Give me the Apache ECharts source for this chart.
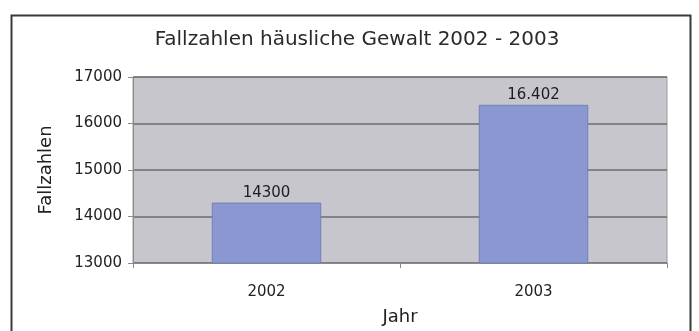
<!DOCTYPE html>
<html>
<head>
<meta charset="utf-8">
<script src="https://cdn.jsdelivr.net/npm/echarts@6/dist/echarts.min.js"></script>
<style>
  html, body { margin: 0; padding: 0; background: #ffffff; }
  #chart { width: 699px; height: 331px; }
</style>
</head>
<body>
<div id="chart"></div>
<script>
// Jahre und Fallzahlen
const years = ['2002', '2003'];
const cases = [14300, 16402];
// Beschriftung über den Säulen, wie im Bericht angegeben
const caseLabels = ['14300', '16.402'];
const yTicks = [13000, 14000, 15000, 16000, 17000];

const chart = echarts.init(document.getElementById('chart'), null, { renderer: 'canvas' });
const font = '"DejaVu Sans", Arial, sans-serif';

chart.setOption({
  animation: false,
  backgroundColor: '#ffffff',
  title: {
    text: 'Fallzahlen häusliche Gewalt 2002 - 2003',
    left: 352,
    textAlign: 'center',
    top: 25,
    textStyle: { fontFamily: font, fontSize: 20, fontWeight: 'normal', color: '#2a2a2a' }
  },
  graphic: [{
    type: 'rect',
    shape: { x: 11.5, y: 15.5, width: 679, height: 330 },
    style: { fill: 'none', stroke: '#3a3a3a', lineWidth: 2 },
    silent: true
  }],
  grid: {
    left: 133, right: 32, top: 77, bottom: 68,
    show: true,
    backgroundColor: '#c6c6cc',
    borderColor: '#9a9a9e',
    borderWidth: 1
  },
  xAxis: {
    type: 'category',
    data: years,
    boundaryGap: true,
    name: 'Jahr',
    nameLocation: 'middle',
    nameGap: 45,
    nameTextStyle: { fontFamily: font, fontSize: 18, color: '#222' },
    axisLine: { lineStyle: { color: '#8a8a8a', width: 1 } },
    axisTick: { show: true, length: 5, lineStyle: { color: '#8a8a8a' } },
    axisLabel: { fontFamily: font, fontSize: 15, color: '#222', margin: 22 },
    splitLine: { show: false }
  },
  yAxis: {
    type: 'value',
    min: yTicks[0],
    max: yTicks[yTicks.length - 1],
    interval: 1000,
    name: 'Fallzahlen',
    nameLocation: 'middle',
    nameGap: 78,
    nameRotate: 90,
    nameTextStyle: { fontFamily: font, fontSize: 18, color: '#222' },
    axisLine: { show: true, lineStyle: { color: '#8a8a8a' } },
    axisTick: { show: true, length: 5, lineStyle: { color: '#8a8a8a' } },
    axisLabel: { fontFamily: font, fontSize: 15, color: '#222', margin: 11, formatter: v => String(v) },
    splitLine: { show: true, lineStyle: { color: '#6c6c70', width: 1.5 } }
  },
  series: [{
    type: 'bar',
    data: cases,
    barWidth: '41%',
    itemStyle: { color: '#8a97d0', borderColor: '#7280b8', borderWidth: 1 },
    label: {
      show: true,
      position: 'top',
      distance: 2,
      fontFamily: font,
      fontSize: 15,
      color: '#1e1e1e',
      formatter: p => caseLabels[p.dataIndex]
    }
  }]
});
</script>
</body>
</html>
